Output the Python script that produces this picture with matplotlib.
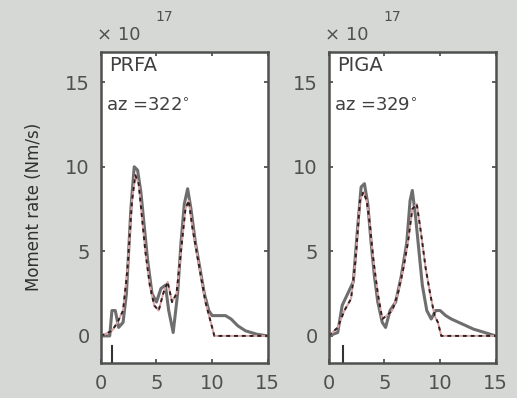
import numpy as np
import matplotlib.pyplot as plt

plt.rcParams['font.family'] = ['DejaVu Sans']

# moment rate functions, x in s, y in 1e17 Nm/s
prfa_obs_t = [0, 0.8, 1.0, 1.3, 1.6, 2.0, 2.3, 2.7, 3.0, 3.3, 3.6, 3.9, 4.2, 4.6, 5.0,
              5.4, 5.8, 6.1, 6.5, 6.9, 7.2, 7.5, 7.8, 8.1, 8.5, 8.9, 9.3, 9.7, 10.0,
              10.5, 11.2, 11.7, 12.3, 13.0, 14.0, 15.0]
prfa_obs = [0, 0, 1.5, 1.5, 0.5, 0.8, 2.5, 7.5, 10.0, 9.8, 8.5, 6.5, 4.5, 2.5, 2.0,
            2.8, 3.0, 1.5, 0.2, 2.5, 5.5, 7.8, 8.7, 7.5, 5.5, 4.0, 2.5, 1.5, 1.2,
            1.2, 1.2, 1.0, 0.6, 0.3, 0.1, 0.0]
prfa_syn_t = [0, 1.0, 1.5, 2.0, 2.4, 2.8, 3.1, 3.4, 3.7, 4.0, 4.4, 4.8, 5.2, 5.6, 6.0,
              6.4, 6.8, 7.2, 7.6, 7.9, 8.2, 8.6, 9.0, 9.4, 9.8, 10.2, 15.0]
prfa_syn = [0, 0.3, 0.8, 1.5, 4.0, 8.0, 9.5, 9.0, 7.0, 5.0, 3.0, 1.8, 1.5, 2.5, 3.2,
            2.0, 2.5, 5.0, 7.5, 8.0, 6.5, 5.0, 3.5, 2.0, 1.0, 0.0, 0.0]

piga_obs_t = [0, 0.8, 1.2, 1.7, 2.2, 2.6, 2.9, 3.2, 3.5, 3.8, 4.1, 4.4, 4.8, 5.1, 5.5,
              6.0, 6.5, 7.0, 7.3, 7.5, 7.8, 8.1, 8.4, 8.8, 9.2, 9.6, 10.0, 10.5, 11.0,
              12.0, 13.0, 14.0, 15.0]
piga_obs = [0, 0.2, 1.8, 2.5, 3.2, 6.5, 8.8, 9.0, 7.8, 5.5, 3.5, 2.0, 0.8, 0.5, 1.5,
            2.0, 3.5, 5.5, 8.0, 8.6, 7.0, 5.0, 3.0, 1.5, 1.0, 1.5, 1.5, 1.2, 1.0,
            0.7, 0.4, 0.2, 0.0]
piga_syn_t = [0, 0.8, 1.4, 2.0, 2.4, 2.8, 3.1, 3.4, 3.7, 4.0, 4.4, 4.8, 5.2, 5.7, 6.2,
              6.7, 7.1, 7.5, 7.9, 8.3, 8.7, 9.1, 9.5, 9.8, 10.1, 15.0]
piga_syn = [0, 0.5, 1.5, 2.2, 4.5, 8.0, 8.5, 8.0, 6.5, 4.5, 2.5, 1.0, 1.2, 1.5, 2.5,
            4.0, 5.5, 7.5, 7.8, 6.0, 4.0, 2.5, 1.2, 0.8, 0.0, 0.0]

stations = ['PRFA', 'PIGA']
azimuths = ['az =322$^{\\circ}$', 'az =329$^{\\circ}$']
onsets = [1.0, 1.3]

bg = '#d5d8d4'
fig = plt.figure(figsize=(5.17, 3.98), dpi=100, facecolor=bg)
lefts = [0.195, 0.636]
panels = [(prfa_obs_t, prfa_obs, prfa_syn_t, prfa_syn),
          (piga_obs_t, piga_obs, piga_syn_t, piga_syn)]

for i in range(2):
    ax = fig.add_axes([lefts[i], 0.088, 0.323, 0.782])
    to, yo, ts, ys = panels[i]
    ax.plot(to, yo, color='#6e6e6e', lw=2.2)
    ax.plot(ts, ys, color='#d9a3a3', lw=1.4)
    ax.plot(ts, ys, color='#2e2020', lw=1.4, dashes=(2, 2))
    ax.plot([onsets[i], onsets[i]], [-0.6, -1.6], color='#333333', lw=1.5)
    ax.set_xlim(0, 15)
    ax.set_ylim(-1.6, 16.8)
    ax.set_xticks([0, 5, 10, 15])
    ax.set_yticks([0, 5, 10, 15])
    ax.tick_params(direction='in', top=True, right=True, length=3, width=1.2,
                   color='#444444', labelsize=14, labelcolor='#505050', pad=8)
    for s in ax.spines.values():
        s.set_color('#505050')
        s.set_linewidth(1.8)
    ax.text(0.05, 0.985, stations[i], transform=ax.transAxes, fontsize=14,
            color='#404040', va='top', ha='left')
    ax.text(0.03, 0.826, azimuths[i], transform=ax.transAxes, fontsize=13,
            color='#404040', va='center', ha='left')
    ax.text(-0.02, 1.025, '\u00d7 10', transform=ax.transAxes, fontsize=13,
            color='#505050', va='bottom', ha='left')
    ax.text(0.33, 1.09, '17', transform=ax.transAxes, fontsize=10,
            color='#505050', va='bottom', ha='left')
    if i == 0:
        ax.set_ylabel('Moment rate (Nm/s)', fontsize=12, color='#303030', labelpad=16)

fig.savefig('out.png', dpi=100, facecolor=bg)
